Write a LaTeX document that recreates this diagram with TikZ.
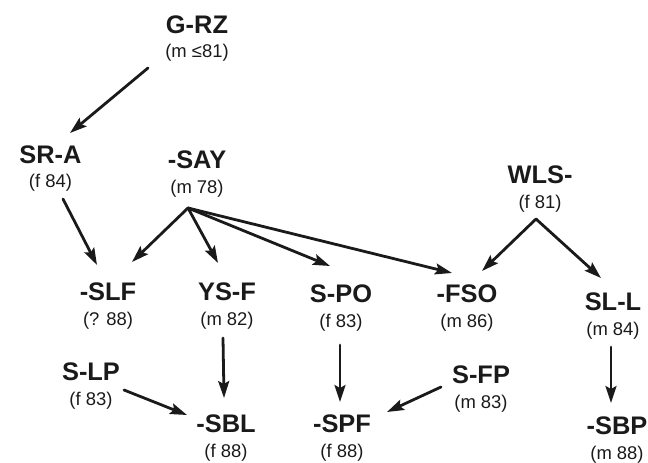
\documentclass[tikz,border=0pt]{standalone}
\usepackage{fontspec}
\setmainfont{Liberation Sans}
\usetikzlibrary{arrows.meta}
\definecolor{ink}{HTML}{1A1A1A}
\tikzset{
  ttl/.style={font=\bfseries\fontsize{25.5}{27}\selectfont, text=ink, inner sep=0pt, anchor=center},
  info/.style={font=\fontsize{18.5}{20}\selectfont, text=ink, inner sep=0pt, anchor=center},
  arr/.style={draw=ink, line width=2.8pt, line cap=round,
    -{Stealth[length=17pt, width=11pt, inset=3pt]}},
}
\newcommand{\person}[5]{%
  \node[ttl] (#1) at (#2,#3) {#4};
  \node[info] (#1-d) at ([shift={(0,28.5)}]#1.center) {#5};
}
\begin{document}
\begin{tikzpicture}[x=1bp, y=-1bp]
\useasboundingbox (0,0) rectangle (648,463);

% labels: name above, sex and year below
\person{grz}{197}{24.5}{G-RZ}{(m ≤81)}
\person{sra}{50.5}{154.5}{SR-A}{(f 84)}
\person{say}{197}{160}{-SAY}{(m 78)}
\person{wls}{540}{175}{WLS-}{(f 81)}
\person{slf}{108}{292}{-SLF}{(? 88)}
\person{ysf}{227}{292}{YS-F}{(m 82)}
\person{spo}{341}{294}{S-PO}{(f 83)}
\person{fso}{467}{294}{-FSO}{(m 86)}
\person{sll}{613}{302}{SL-L}{(m 84)}
\person{slp}{91}{372}{S-LP}{(f 83)}
\person{sbl}{226}{424}{-SBL}{(f 88)}
\person{spf}{342}{424}{-SPF}{(f 88)}
\person{sfp}{481}{375}{S-FP}{(m 83)}
\person{sbp}{617}{426}{-SBP}{(m 88)}

% descent lines
\draw[arr] ([shift={(-49,43.5)}]grz.center) -- ([shift={(19.5,-21.5)}]sra.center);
\draw[arr] ([shift={(12.5,44.5)}]sra.center) -- ([shift={(-11,-27)}]slf.center);
\coordinate (sayo) at ([shift={(-9,48)}]say.center);
\draw[arr] (sayo) -- ([shift={(24,-30)}]slf.center);
\draw[arr] (sayo) -- ([shift={(-9,-29)}]ysf.center);
\draw[arr] (sayo) -- ([shift={(-11,-28)}]spo.center);
\draw[arr] (sayo) -- ([shift={(-15,-21)}]fso.center);
\coordinate (wlso) at ([shift={(-4,44)}]wls.center);
\draw[arr] (wlso) -- ([shift={(15,-23)}]fso.center);
\draw[arr] (wlso) -- ([shift={(-12,-24)}]sll.center);
\draw[arr] ([shift={(-4,46)}]ysf.center) -- ([shift={(-2,-26)}]sbl.center);
\draw[arr] ([shift={(33,18)}]slp.center) -- ([shift={(-39,-9)}]sbl.center);
\draw[arr] ([shift={(-1,51)}]spo.center) -- ([shift={(-2,-22)}]spf.center);
\draw[arr] ([shift={(-40,12)}]sfp.center) -- ([shift={(45,-12)}]spf.center);
\draw[arr] ([shift={(-2,45)}]sll.center) -- ([shift={(-6,-23)}]sbp.center);
\end{tikzpicture}
\end{document}
